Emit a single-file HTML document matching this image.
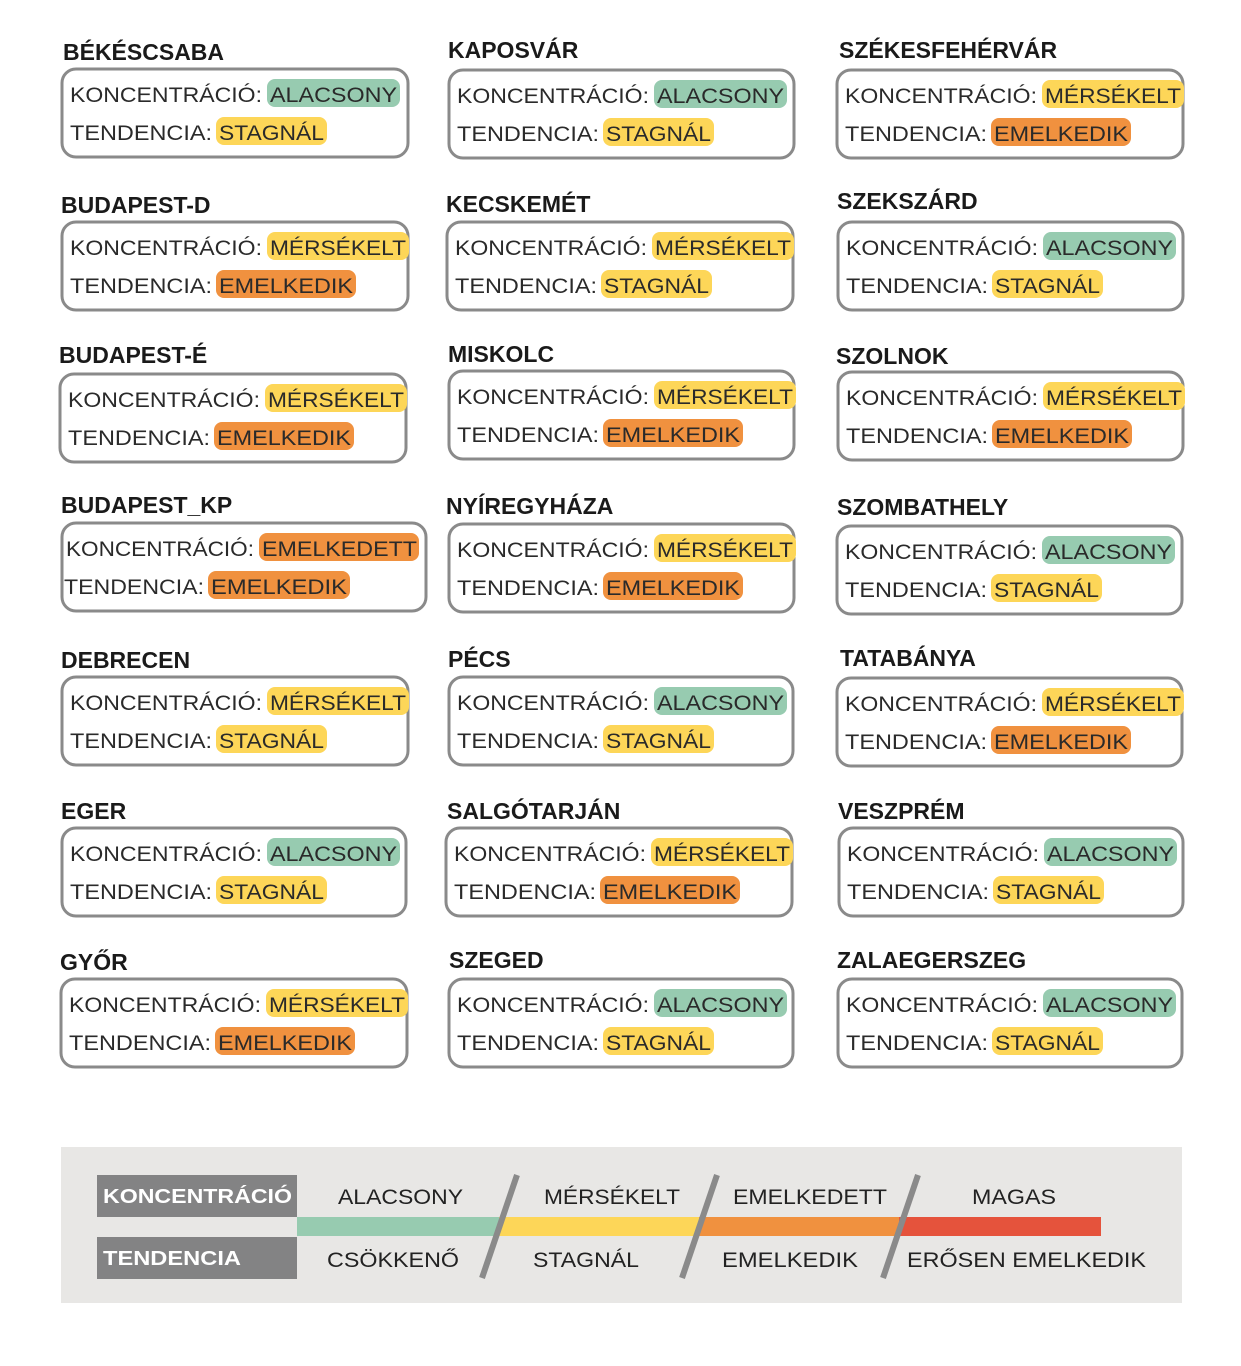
<!DOCTYPE html>
<html><head><meta charset="utf-8"><style>
html,body{margin:0;padding:0;background:#fff;}
svg{display:block;font-family:"Liberation Sans",sans-serif;}
.b{fill:#fff;stroke:#8a8a8a;stroke-width:3;}
.t{font-weight:bold;font-size:23px;fill:#1a1a1a;}
.l{font-size:21px;fill:#2a2a2a;}
.A{fill:#97cbb0}.M{fill:#fdd658}.E{fill:#f0913f}
</style></head><body>
<svg width="1241" height="1366" viewBox="0 0 1241 1366" xmlns="http://www.w3.org/2000/svg">
<defs>
<g id="kon"><text class="l" x="8" y="33" textLength="192" lengthAdjust="spacingAndGlyphs">KONCENTRÁCIÓ:</text></g>
<g id="ten"><text class="l" x="8" y="71" textLength="142" lengthAdjust="spacingAndGlyphs">TENDENCIA:</text></g>
<g id="cA"><rect class="A" x="205" y="10" width="133" height="28" rx="8"/></g>
<g id="cM"><rect class="M" x="205" y="10" width="142" height="28" rx="8"/></g>
<g id="tS"><rect class="M" x="154" y="48" width="111" height="28" rx="8"/></g>
<g id="tE"><rect class="E" x="154" y="48" width="140" height="28" rx="8"/></g>
</defs>

<!-- column 1 -->
<g transform="translate(62,69)"><rect class="b" width="346" height="88" rx="14"/><text class="t" x="1" y="-9">BÉKÉSCSABA</text><use href="#kon"/><use href="#ten"/><use href="#cA"/><text class="l" x="208" y="33" textLength="127" lengthAdjust="spacingAndGlyphs">ALACSONY</text><use href="#tS"/><text class="l" x="157" y="71" textLength="105" lengthAdjust="spacingAndGlyphs">STAGNÁL</text></g>
<g transform="translate(62,222)"><rect class="b" width="346" height="88" rx="14"/><text class="t" x="-1" y="-9">BUDAPEST-D</text><use href="#kon"/><use href="#ten"/><use href="#cM"/><text class="l" x="208" y="33" textLength="136" lengthAdjust="spacingAndGlyphs">MÉRSÉKELT</text><use href="#tE"/><text class="l" x="157" y="71" textLength="134" lengthAdjust="spacingAndGlyphs">EMELKEDIK</text></g>
<g transform="translate(60,374)"><rect class="b" width="346" height="88" rx="14"/><text class="t" x="-1" y="-11">BUDAPEST-É</text><use href="#kon"/><use href="#ten"/><use href="#cM"/><text class="l" x="208" y="33" textLength="136" lengthAdjust="spacingAndGlyphs">MÉRSÉKELT</text><use href="#tE"/><text class="l" x="157" y="71" textLength="134" lengthAdjust="spacingAndGlyphs">EMELKEDIK</text></g>
<g transform="translate(62,523)"><rect class="b" width="364" height="88" rx="14"/><text class="t" x="-1" y="-10">BUDAPEST_KP</text>
<text class="l" x="4" y="33" textLength="188" lengthAdjust="spacingAndGlyphs">KONCENTRÁCIÓ:</text><rect class="E" x="197" y="10" width="160" height="28" rx="8"/><text class="l" x="200" y="33" textLength="155" lengthAdjust="spacingAndGlyphs">EMELKEDETT</text>
<text class="l" x="2" y="71" textLength="140" lengthAdjust="spacingAndGlyphs">TENDENCIA:</text><rect class="E" x="146" y="48" width="142" height="28" rx="8"/><text class="l" x="149" y="71" textLength="136" lengthAdjust="spacingAndGlyphs">EMELKEDIK</text></g>
<g transform="translate(62,677)"><rect class="b" width="346" height="88" rx="14"/><text class="t" x="-1" y="-9">DEBRECEN</text><use href="#kon"/><use href="#ten"/><use href="#cM"/><text class="l" x="208" y="33" textLength="136" lengthAdjust="spacingAndGlyphs">MÉRSÉKELT</text><use href="#tS"/><text class="l" x="157" y="71" textLength="105" lengthAdjust="spacingAndGlyphs">STAGNÁL</text></g>
<g transform="translate(62,828)"><rect class="b" width="344" height="88" rx="14"/><text class="t" x="-1" y="-9">EGER</text><use href="#kon"/><use href="#ten"/><use href="#cA"/><text class="l" x="208" y="33" textLength="127" lengthAdjust="spacingAndGlyphs">ALACSONY</text><use href="#tS"/><text class="l" x="157" y="71" textLength="105" lengthAdjust="spacingAndGlyphs">STAGNÁL</text></g>
<g transform="translate(61,979)"><rect class="b" width="346" height="88" rx="14"/><text class="t" x="-1" y="-9">GYŐR</text><use href="#kon"/><use href="#ten"/><use href="#cM"/><text class="l" x="208" y="33" textLength="136" lengthAdjust="spacingAndGlyphs">MÉRSÉKELT</text><use href="#tE"/><text class="l" x="157" y="71" textLength="134" lengthAdjust="spacingAndGlyphs">EMELKEDIK</text></g>

<!-- column 2 -->
<g transform="translate(449,70)"><rect class="b" width="345" height="88" rx="14"/><text class="t" x="-1" y="-12">KAPOSVÁR</text><use href="#kon"/><use href="#ten"/><use href="#cA"/><text class="l" x="208" y="33" textLength="127" lengthAdjust="spacingAndGlyphs">ALACSONY</text><use href="#tS"/><text class="l" x="157" y="71" textLength="105" lengthAdjust="spacingAndGlyphs">STAGNÁL</text></g>
<g transform="translate(447,222)"><rect class="b" width="346" height="88" rx="14"/><text class="t" x="-1" y="-10">KECSKEMÉT</text><use href="#kon"/><use href="#ten"/><use href="#cM"/><text class="l" x="208" y="33" textLength="136" lengthAdjust="spacingAndGlyphs">MÉRSÉKELT</text><use href="#tS"/><text class="l" x="157" y="71" textLength="105" lengthAdjust="spacingAndGlyphs">STAGNÁL</text></g>
<g transform="translate(449,371)"><rect class="b" width="345" height="88" rx="14"/><text class="t" x="-1" y="-9">MISKOLC</text><use href="#kon"/><use href="#ten"/><use href="#cM"/><text class="l" x="208" y="33" textLength="136" lengthAdjust="spacingAndGlyphs">MÉRSÉKELT</text><use href="#tE"/><text class="l" x="157" y="71" textLength="134" lengthAdjust="spacingAndGlyphs">EMELKEDIK</text></g>
<g transform="translate(449,524)"><rect class="b" width="345" height="88" rx="14"/><text class="t" x="-3" y="-10">NYÍREGYHÁZA</text><use href="#kon"/><use href="#ten"/><use href="#cM"/><text class="l" x="208" y="33" textLength="136" lengthAdjust="spacingAndGlyphs">MÉRSÉKELT</text><use href="#tE"/><text class="l" x="157" y="71" textLength="134" lengthAdjust="spacingAndGlyphs">EMELKEDIK</text></g>
<g transform="translate(449,677)"><rect class="b" width="344" height="88" rx="14"/><text class="t" x="-1" y="-10">PÉCS</text><use href="#kon"/><use href="#ten"/><use href="#cA"/><text class="l" x="208" y="33" textLength="127" lengthAdjust="spacingAndGlyphs">ALACSONY</text><use href="#tS"/><text class="l" x="157" y="71" textLength="105" lengthAdjust="spacingAndGlyphs">STAGNÁL</text></g>
<g transform="translate(446,828)"><rect class="b" width="346" height="88" rx="14"/><text class="t" x="1" y="-9">SALGÓTARJÁN</text><use href="#kon"/><use href="#ten"/><use href="#cM"/><text class="l" x="208" y="33" textLength="136" lengthAdjust="spacingAndGlyphs">MÉRSÉKELT</text><use href="#tE"/><text class="l" x="157" y="71" textLength="134" lengthAdjust="spacingAndGlyphs">EMELKEDIK</text></g>
<g transform="translate(449,979)"><rect class="b" width="344" height="88" rx="14"/><text class="t" x="0" y="-11">SZEGED</text><use href="#kon"/><use href="#ten"/><use href="#cA"/><text class="l" x="208" y="33" textLength="127" lengthAdjust="spacingAndGlyphs">ALACSONY</text><use href="#tS"/><text class="l" x="157" y="71" textLength="105" lengthAdjust="spacingAndGlyphs">STAGNÁL</text></g>

<!-- column 3 -->
<g transform="translate(837,70)"><rect class="b" width="346" height="88" rx="14"/><text class="t" x="2" y="-12">SZÉKESFEHÉRVÁR</text><use href="#kon"/><use href="#ten"/><use href="#cM"/><text class="l" x="208" y="33" textLength="136" lengthAdjust="spacingAndGlyphs">MÉRSÉKELT</text><use href="#tE"/><text class="l" x="157" y="71" textLength="134" lengthAdjust="spacingAndGlyphs">EMELKEDIK</text></g>
<g transform="translate(838,222)"><rect class="b" width="345" height="88" rx="14"/><text class="t" x="-1" y="-13">SZEKSZÁRD</text><use href="#kon"/><use href="#ten"/><use href="#cA"/><text class="l" x="208" y="33" textLength="127" lengthAdjust="spacingAndGlyphs">ALACSONY</text><use href="#tS"/><text class="l" x="157" y="71" textLength="105" lengthAdjust="spacingAndGlyphs">STAGNÁL</text></g>
<g transform="translate(838,372)"><rect class="b" width="345" height="88" rx="14"/><text class="t" x="-2" y="-8">SZOLNOK</text><use href="#kon"/><use href="#ten"/><use href="#cM"/><text class="l" x="208" y="33" textLength="136" lengthAdjust="spacingAndGlyphs">MÉRSÉKELT</text><use href="#tE"/><text class="l" x="157" y="71" textLength="134" lengthAdjust="spacingAndGlyphs">EMELKEDIK</text></g>
<g transform="translate(837,526)"><rect class="b" width="345" height="88" rx="14"/><text class="t" x="0" y="-11">SZOMBATHELY</text><use href="#kon"/><use href="#ten"/><use href="#cA"/><text class="l" x="208" y="33" textLength="127" lengthAdjust="spacingAndGlyphs">ALACSONY</text><use href="#tS"/><text class="l" x="157" y="71" textLength="105" lengthAdjust="spacingAndGlyphs">STAGNÁL</text></g>
<g transform="translate(837,678)"><rect class="b" width="345" height="88" rx="14"/><text class="t" x="3" y="-12">TATABÁNYA</text><use href="#kon"/><use href="#ten"/><use href="#cM"/><text class="l" x="208" y="33" textLength="136" lengthAdjust="spacingAndGlyphs">MÉRSÉKELT</text><use href="#tE"/><text class="l" x="157" y="71" textLength="134" lengthAdjust="spacingAndGlyphs">EMELKEDIK</text></g>
<g transform="translate(839,828)"><rect class="b" width="344" height="88" rx="14"/><text class="t" x="-1" y="-9">VESZPRÉM</text><use href="#kon"/><use href="#ten"/><use href="#cA"/><text class="l" x="208" y="33" textLength="127" lengthAdjust="spacingAndGlyphs">ALACSONY</text><use href="#tS"/><text class="l" x="157" y="71" textLength="105" lengthAdjust="spacingAndGlyphs">STAGNÁL</text></g>
<g transform="translate(838,979)"><rect class="b" width="344" height="88" rx="14"/><text class="t" x="-1" y="-11">ZALAEGERSZEG</text><use href="#kon"/><use href="#ten"/><use href="#cA"/><text class="l" x="208" y="33" textLength="127" lengthAdjust="spacingAndGlyphs">ALACSONY</text><use href="#tS"/><text class="l" x="157" y="71" textLength="105" lengthAdjust="spacingAndGlyphs">STAGNÁL</text></g>

<!-- legend -->
<rect x="61" y="1147" width="1121" height="156" fill="#e8e7e5"/>
<rect x="97" y="1175" width="200" height="42" fill="#838384"/>
<rect x="97" y="1237" width="200" height="42" fill="#838384"/>
<text x="103" y="1203" font-size="20" font-weight="bold" fill="#fff" textLength="189" lengthAdjust="spacingAndGlyphs">KONCENTRÁCIÓ</text>
<text x="103" y="1265" font-size="20" font-weight="bold" fill="#fff" textLength="138" lengthAdjust="spacingAndGlyphs">TENDENCIA</text>
<rect x="297" y="1217" width="202" height="19" fill="#97cbb0"/>
<rect x="499" y="1217" width="200" height="19" fill="#fdd658"/>
<rect x="699" y="1217" width="200" height="19" fill="#f0913f"/>
<rect x="899" y="1217" width="202" height="19" fill="#e5533c"/>
<g stroke="#8a8a8a" stroke-width="6">
<line x1="517" y1="1175" x2="482" y2="1278"/>
<line x1="717" y1="1175" x2="682" y2="1278"/>
<line x1="918" y1="1175" x2="883" y2="1278"/>
</g>
<g font-size="21" fill="#222" lengthAdjust="spacingAndGlyphs">
<text x="338" y="1204" textLength="125" lengthAdjust="spacingAndGlyphs">ALACSONY</text>
<text x="544" y="1204" textLength="136" lengthAdjust="spacingAndGlyphs">MÉRSÉKELT</text>
<text x="733" y="1204" textLength="154" lengthAdjust="spacingAndGlyphs">EMELKEDETT</text>
<text x="972" y="1204" textLength="84" lengthAdjust="spacingAndGlyphs">MAGAS</text>
<text x="327" y="1267" textLength="132" lengthAdjust="spacingAndGlyphs">CSÖKKENŐ</text>
<text x="533" y="1267" textLength="106" lengthAdjust="spacingAndGlyphs">STAGNÁL</text>
<text x="722" y="1267" textLength="136" lengthAdjust="spacingAndGlyphs">EMELKEDIK</text>
<text x="907" y="1267" textLength="239" lengthAdjust="spacingAndGlyphs">ERŐSEN EMELKEDIK</text>
</g>
</svg>
</body></html>
